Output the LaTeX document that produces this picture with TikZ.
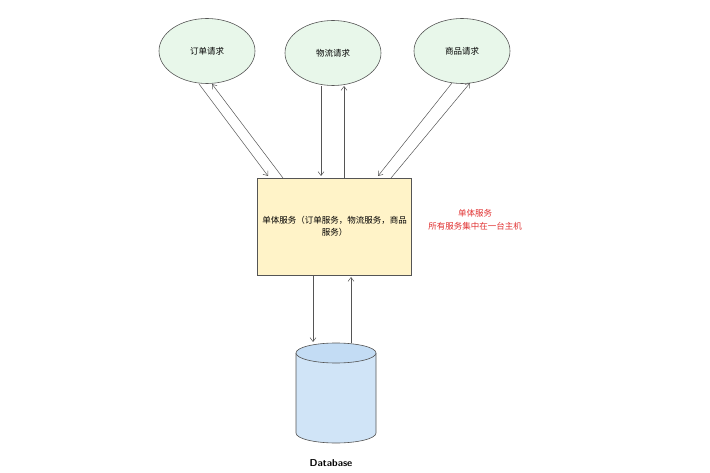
\documentclass[tikz,border=0pt]{standalone}
\usepackage{fontspec}
\newfontfamily\cjk{Noto Sans CJK SC}
\usetikzlibrary{arrows.meta,shapes.geometric}
\definecolor{reqfill}{HTML}{E8F7EA}
\definecolor{boxfill}{HTML}{FFF3C8}
\definecolor{dbfill}{HTML}{D0E4F7}
\definecolor{dbtop}{HTML}{C3DCF4}
\definecolor{linec}{HTML}{555555}
\definecolor{redt}{HTML}{E03131}
\tikzset{
  req/.style={ellipse, draw=linec, fill=reqfill, line width=0.6pt, minimum width=96pt, minimum height=65pt, inner sep=0pt, font=\cjk\fontsize{8.5}{10}\selectfont},
  svcbox/.style={rectangle, draw=linec, fill=boxfill, line width=0.6pt, minimum width=154pt, minimum height=97pt, inner sep=0pt, align=center, font=\cjk\fontsize{8.5}{12}\selectfont},
  conn/.style={draw=linec, line width=0.5pt, -{Straight Barb[length=4pt,width=6pt]}},
  note/.style={align=center, text=redt, font=\cjk\fontsize{8.5}{13}\selectfont},
  dblabel/.style={font=\sffamily\bfseries\fontsize{10}{11}\selectfont, text=black}
}
\begin{document}
\begin{tikzpicture}[x=1pt,y=-1pt]
\useasboundingbox (0,0) rectangle (710,473);
\node[req] (e1) at (207,51) {订单请求};
\node[req] (e2) at (333,53) {物流请求};
\node[req] (e3) at (462,51) {商品请求};
\node[svcbox] (svc) at (334.5,226.5) {单体服务（订单服务，物流服务，商品\\服务）};
\node[note] (nt) at (475,220) {单体服务\\所有服务集中在一台主机};
% cylinder
\path[fill=dbfill, draw=linec, line width=0.6pt] (296,353) -- (296,433) arc[start angle=180, end angle=0, x radius=40, y radius=10] -- (376,353);
\path[fill=dbtop, draw=linec, line width=0.6pt] (336,353) ellipse[x radius=40, y radius=10];
\node[minimum width=80pt, minimum height=100pt, inner sep=0pt] (db) at (336,393) {};
\node[dblabel] (dbl) at (331,463) {Database};
% connector end points
\coordinate (a1s) at (199,84); \coordinate (a1e) at (268,176);
\coordinate (a2s) at (283,178); \coordinate (a2e) at (212,84);
\coordinate (b1s) at (321,86); \coordinate (b1e) at (321,176);
\coordinate (b2s) at (344,178); \coordinate (b2e) at (344,86);
\coordinate (c1s) at (452,83); \coordinate (c1e) at (378,176);
\coordinate (c2s) at (391,178); \coordinate (c2e) at (470,83);
\coordinate (d1s) at (313,276); \coordinate (d1e) at (313,342);
\coordinate (d2s) at (351,343); \coordinate (d2e) at (351,277);
\draw[conn] (a1s) -- (a1e);
\draw[conn] (a2s) -- (a2e);
\draw[conn] (b1s) -- (b1e);
\draw[conn] (b2s) -- (b2e);
\draw[conn] (c1s) -- (c1e);
\draw[conn] (c2s) -- (c2e);
\draw[conn] (d1s) -- (d1e);
\draw[conn] (d2s) -- (d2e);
\end{tikzpicture}
\end{document}
